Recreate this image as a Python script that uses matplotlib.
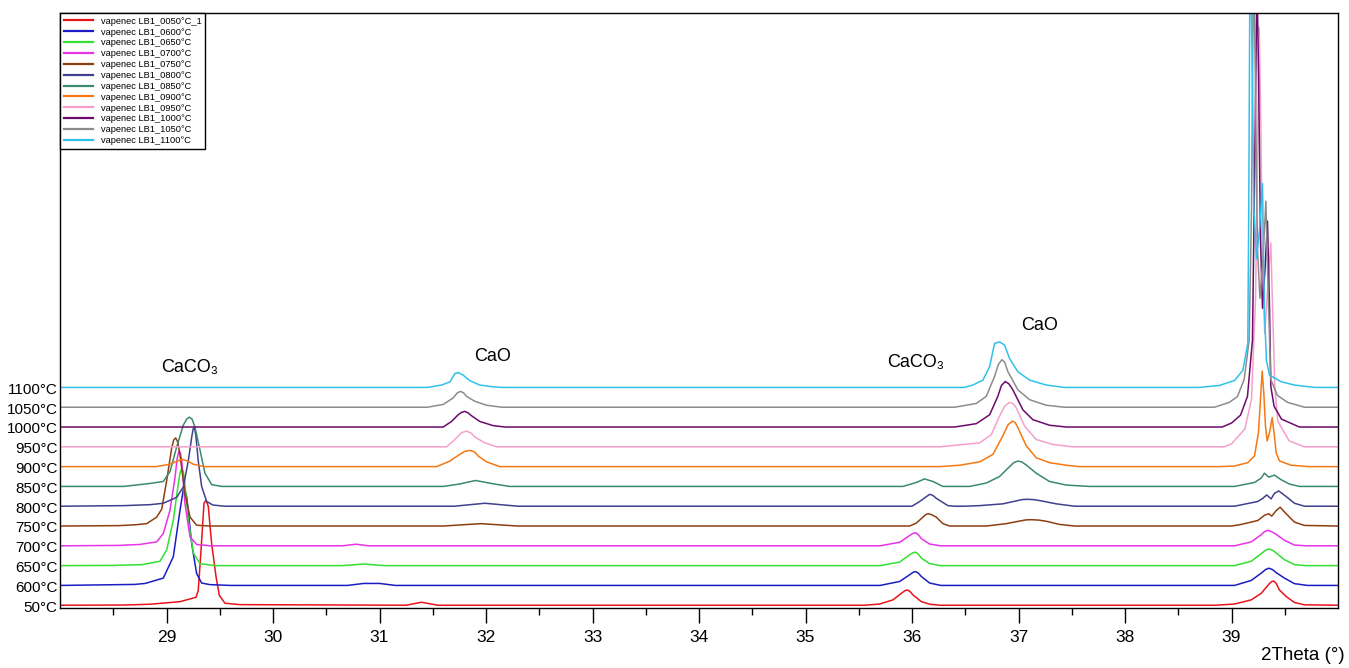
import matplotlib
matplotlib.use("Agg")
import matplotlib.pyplot as plt
import matplotlib.transforms as mtransforms

plt.rcParams['font.family'] = ['Liberation Sans', 'DejaVu Sans']

# ---------------- data (2Theta in degrees, intensity above own baseline) ----------------
temps = ["50°C", "600°C", "650°C", "700°C", "750°C", "800°C", "850°C",
         "900°C", "950°C", "1000°C", "1050°C", "1100°C"]
legend_labels = ["vapenec LB1_0050°C_1", "vapenec LB1_0600°C", "vapenec LB1_0650°C",
                 "vapenec LB1_0700°C", "vapenec LB1_0750°C", "vapenec LB1_0800°C",
                 "vapenec LB1_0850°C", "vapenec LB1_0900°C", "vapenec LB1_0950°C",
                 "vapenec LB1_1000°C", "vapenec LB1_1050°C", "vapenec LB1_1100°C"]
offsets = [0, 100, 200, 300, 400, 500, 600, 700, 800, 900, 1000, 1100]
colors = ["#e8141a", "#1c1cc4", "#33e033", "#e833e8", "#8e3f10", "#40408e",
          "#3a8a6c", "#f57812", "#f5a0cc", "#6c0a6c", "#8c8c8c", "#30c0ec"]

tt_50 = [28.00, 28.60, 28.845, 29.127, 29.277, 29.298, 29.324, 29.352, 29.371, 29.392, 29.424,
         29.465, 29.496, 29.549, 29.690, 31.25, 31.395, 31.55, 35.55, 35.696, 35.821,
         35.900, 35.935, 35.956, 35.980, 36.009, 36.088, 36.166, 36.259, 38.85, 39.028, 39.185, 39.279,
         39.357, 39.380, 39.397, 39.420, 39.450, 39.513, 39.591, 39.685, 40.00]
i_50 = [0, 1, 5, 18, 40, 75, 275, 515, 530, 500, 310,
        145, 50, 10, 3, 0, 15, 0, 0, 6, 27,
        60, 74, 77, 70, 52, 18, 5, 0, 0, 6, 27, 60,
        110, 120, 122, 110, 77, 44, 14, 2, 0]

tt_600 = [28.00, 28.70, 28.80, 28.970, 29.064, 29.127, 29.158, 29.164, 29.190, 29.237, 29.283,
          29.330, 29.408, 29.60, 30.70, 30.85, 31.00, 31.15, 35.70, 35.884, 35.978,
          36.010, 36.034, 36.060, 36.088, 36.166, 36.27, 39.028, 39.185, 39.279, 39.320, 39.350, 39.385,
          39.419, 39.497, 39.591, 39.713, 40.00]
i_600 = [0, 5, 10, 37, 145, 380, 485, 495, 445, 210, 60,
         12, 4, 0, 0, 10, 10, 0, 0, 20, 54,
         66, 70, 62, 45, 12, 0, 0, 25, 62, 80, 87, 80,
         65, 37, 9, 0, 0]

tt_650 = [28.00, 28.50, 28.770, 28.939, 29.002, 29.064, 29.111, 29.128, 29.143, 29.155, 29.167,
          29.205, 29.252, 29.314, 29.455, 30.65, 30.85, 31.05, 35.70, 35.884, 35.978,
          36.010, 36.034, 36.060, 36.088, 36.166, 36.27, 39.028, 39.185, 39.279, 39.320,
          39.350, 39.385, 39.419, 39.497, 39.591, 39.70, 40.00]
i_650 = [0, 1, 5, 22, 80, 230, 415, 470, 490, 480, 445,
         230, 64, 10, 0, 0, 8, 0, 0, 18, 55,
         65, 68, 58, 38, 10, 0, 0, 22, 60, 78,
         84, 78, 64, 30, 5, 0, 0]

tt_700 = [28.00, 28.55, 28.751, 28.908, 28.970, 29.033, 29.080, 29.100, 29.117, 29.130, 29.143,
          29.174, 29.221, 29.283, 29.408, 30.65, 30.78, 30.90, 35.70, 35.884, 35.978,
          36.010, 36.034, 36.060, 36.088, 36.166, 36.27, 39.028, 39.185, 39.279, 39.310,
          39.340, 39.375, 39.419, 39.497, 39.591, 39.70, 40.00]
i_700 = [0, 2, 7, 20, 62, 180, 345, 440, 480, 470, 430,
         210, 45, 7, 0, 0, 8, 0, 0, 18, 52,
         63, 66, 56, 36, 9, 0, 0, 20, 56, 72,
         78, 72, 58, 28, 4, 0, 0]

tt_750 = [28.00, 28.55, 28.70, 28.814, 28.908, 28.955, 29.002, 29.049, 29.068, 29.086, 29.105,
          29.127, 29.174, 29.221, 29.283, 29.408, 31.60, 31.95, 32.30, 35.978, 36.041,
          36.103, 36.130, 36.150, 36.180, 36.228, 36.290, 36.353, 36.697, 36.885, 37.010,
          37.070, 37.120, 37.190, 37.261, 37.386, 37.527, 39.00, 39.091, 39.247, 39.309,
          39.350, 39.378, 39.419, 39.457, 39.513, 39.591, 39.685, 40.00]
i_750 = [0, 2, 6, 12, 45, 85, 230, 395, 435, 445, 425,
         360, 160, 45, 4, 0, 0, 12, 0, 0, 15,
         45, 58, 62, 58, 45, 12, 0, 0, 12, 25,
         31, 32, 30, 24, 8, 0, 0, 8, 28, 54,
         62, 50, 78, 95, 62, 20, 3, 0]

tt_800 = [28.00, 28.60, 28.85, 28.970, 29.096, 29.158, 29.205, 29.237, 29.250, 29.261, 29.275,
          29.298, 29.330, 29.377, 29.436, 29.549, 31.70, 31.99, 32.30, 36.00, 36.072,
          36.134, 36.166, 36.195, 36.228, 36.337, 36.40, 36.49, 36.635, 36.853, 36.979,
          37.040, 37.088, 37.150, 37.214, 37.355, 37.527, 39.028, 39.247, 39.294, 39.331,
          39.372, 39.403, 39.444, 39.513, 39.591, 39.685, 40.00]
i_800 = [0, 3, 8, 15, 45, 98, 230, 350, 390, 400, 360,
         230, 100, 24, 6, 0, 0, 15, 0, 0, 24,
         48, 60, 55, 40, 3, 0, 0, 3, 12, 27,
         34, 35, 33, 27, 12, 0, 0, 24, 40, 57,
         37, 65, 77, 49, 15, 0, 0]

tt_850 = [28.00, 28.60, 28.845, 28.970, 29.033, 29.096, 29.158, 29.190, 29.214, 29.240, 29.267,
          29.314, 29.361, 29.424, 29.52, 31.60, 31.75, 31.90, 32.07, 32.22, 35.915,
          36.041, 36.118, 36.196, 36.290, 36.541, 36.697, 36.822, 36.916, 36.955, 36.994,
          37.030, 37.073, 37.166, 37.291, 37.448, 37.667, 39.028, 39.216, 39.279, 39.309,
          39.350, 39.403, 39.466, 39.544, 39.638, 40.00]
i_850 = [0, 0, 15, 25, 75, 200, 310, 340, 350, 340, 300,
         185, 67, 9, 0, 0, 12, 30, 13, 0, 0,
         20, 38, 25, 0, 0, 17, 50, 100, 120, 128,
         124, 108, 67, 25, 7, 0, 0, 20, 42, 67,
         47, 57, 34, 12, 0, 0]

tt_900 = [28.00, 28.90, 29.033, 29.10, 29.148, 29.20, 29.252, 29.35, 31.536, 31.661,
          31.754, 31.800, 31.848, 31.890, 31.926, 32.005, 32.130, 36.26, 36.447, 36.635,
          36.760, 36.853, 36.900, 36.942, 36.970, 36.994, 37.073, 37.166, 37.291, 37.448,
          37.573, 38.887, 39.028, 39.153, 39.216, 39.253, 39.272, 39.288, 39.303, 39.319,
          39.335, 39.357, 39.382, 39.403, 39.419, 39.450, 39.560, 39.73, 40.00]
i_900 = [0, 0, 12, 28, 37, 28, 12, 0, 0, 28,
         62, 77, 82, 75, 54, 24, 0, 0, 7, 24,
         62, 155, 210, 230, 222, 197, 105, 45, 20, 7,
         0, 0, 3, 20, 54, 172, 338, 483, 374, 205,
         130, 172, 247, 155, 71, 29, 7, 0, 0]

tt_950 = [28.00, 31.630, 31.708, 31.770, 31.817, 31.860, 31.895, 31.989, 32.10, 36.26,
          36.635, 36.745, 36.822, 36.870, 36.916, 36.950, 36.979, 37.057, 37.166, 37.322,
          37.51, 38.931, 39.000, 39.125, 39.188, 39.226, 39.244, 39.260, 39.275, 39.291,
          39.312, 39.335, 39.369, 39.387, 39.406, 39.434, 39.542, 39.683, 40.00]
i_950 = [0, 0, 37, 72, 79, 70, 50, 20, 0, 0,
         20, 62, 155, 205, 225, 218, 197, 105, 37, 12,
         0, 0, 15, 90, 240, 750, 1480, 2120, 1640, 900,
         570, 760, 1030, 680, 310, 130, 30, 0, 0]

tt_1000 = [28.00, 31.598, 31.676, 31.739, 31.770, 31.801, 31.830, 31.864, 31.942, 32.067,
           32.18, 36.40, 36.604, 36.729, 36.806, 36.840, 36.876, 36.910, 36.947, 37.041,
           37.135, 37.291, 37.45, 38.912, 39.000, 39.085, 39.150, 39.197, 39.220, 39.239,
           39.255, 39.272, 39.291, 39.315, 39.338, 39.357, 39.369, 39.400, 39.469, 39.638,
           40.00]
i_1000 = [0, 0, 28, 62, 74, 79, 72, 57, 28, 7,
          0, 0, 17, 62, 155, 210, 230, 218, 188, 87,
          37, 9, 0, 0, 20, 60, 155, 440, 1400, 2270,
          1750, 950, 600, 800, 1040, 600, 205, 105, 40, 0,
          0]

tt_1050 = [28.00, 31.45, 31.598, 31.692, 31.730, 31.761, 31.790, 31.817, 31.895, 32.005,
           32.15, 36.40, 36.604, 36.697, 36.775, 36.810, 36.844, 36.870, 36.900, 36.994,
           37.104, 37.261, 37.43, 38.840, 38.981, 39.056, 39.119, 39.166, 39.188, 39.206,
           39.223, 39.244, 39.267, 39.295, 39.323, 39.343, 39.369, 39.431, 39.525, 39.685,
           40.00]
i_1050 = [0, 0, 14, 47, 72, 80, 72, 55, 30, 10,
          0, 0, 19, 55, 155, 215, 240, 228, 180, 88,
          38, 10, 0, 0, 25, 54, 140, 340, 1000, 2270,
          1700, 800, 550, 750, 1040, 600, 140, 60, 25, 0,
          0]

tt_1100 = [28.00, 31.45, 31.583, 31.661, 31.708, 31.739, 31.786, 31.848, 31.942, 32.067,
           32.15, 36.49, 36.572, 36.666, 36.729, 36.775, 36.822, 36.869, 36.916, 36.994,
           37.104, 37.261, 37.43, 38.699, 38.887, 39.028, 39.106, 39.153, 39.162, 39.175,
           39.190, 39.211, 39.235, 39.263, 39.291, 39.309, 39.328, 39.357, 39.466, 39.591,
           39.779, 40.00]
i_1100 = [0, 0, 12, 28, 70, 75, 62, 34, 12, 3,
          0, 0, 12, 37, 105, 222, 230, 214, 146, 79,
          37, 12, 0, 0, 10, 35, 86, 222, 900, 2320,
          1800, 900, 650, 800, 1030, 390, 136, 62, 29, 12,
          0, 0]

two_theta = [tt_50, tt_600, tt_650, tt_700, tt_750, tt_800, tt_850,
             tt_900, tt_950, tt_1000, tt_1050, tt_1100]
intensity = [i_50, i_600, i_650, i_700, i_750, i_800, i_850,
             i_900, i_950, i_1000, i_1050, i_1100]

major_ticks = [29, 30, 31, 32, 33, 34, 35, 36, 37, 38, 39]
minor_ticks = [28.5, 29.5, 30.5, 31.5, 32.5, 33.5, 34.5, 35.5, 36.5, 37.5, 38.5, 39.5]

annotations = [("CaCO\u2083", 29.22, 1203), ("CaO", 32.06, 1254),
               ("CaCO\u2083", 36.03, 1224), ("CaO", 37.20, 1411)]

# ---------------- figure ----------------
W, H = 1349, 668
fig = plt.figure(figsize=(W / 100, H / 100), dpi=100)
ax = fig.add_axes([60 / W, 1 - 608 / H, (1338 - 60) / W, (608 - 13) / H])

handles = []
for tt, ii, off, col, lab in zip(two_theta, intensity, offsets, colors, legend_labels):
    yy = [v + off for v in ii]
    h, = ax.plot(tt, yy, color=col, lw=1.1, label=lab, solid_joinstyle='round')
    handles.append(h)

ax.set_xlim(28.0, 40.0)
ax.set_ylim(-14, 2991)
ax.set_yticks([])
ax.set_xticks(major_ticks)
ax.set_xticklabels([str(t) for t in major_ticks])
ax.set_xticks(minor_ticks, minor=True)
ax.tick_params(axis='x', which='major', direction='out', length=10.8, width=1.0,
               pad=5, labelsize=12.5)
ax.tick_params(axis='x', which='minor', direction='out', length=5, width=1.0)
for s in ax.spines.values():
    s.set_linewidth(1.0)

trans = mtransforms.blended_transform_factory(ax.transAxes, ax.transData)
for lab, off in zip(temps, offsets):
    ax.text(-0.002, off - 12, lab, transform=trans, ha='right', va='center',
            fontsize=11)

for txt, x, y in annotations:
    ax.text(x, y, txt, ha='center', va='center', fontsize=13)

fig.text(1345 / W, 1 - 656 / H, "2Theta (°)", ha='right', va='center', fontsize=13.5)

leg = ax.legend(handles=handles, loc='upper left', bbox_to_anchor=(0, 1),
                borderaxespad=0, fontsize=6.7, frameon=True, fancybox=False,
                edgecolor='black', framealpha=1, handlelength=3.1,
                handletextpad=0.9, labelspacing=0.2, borderpad=0.4)
leg.get_frame().set_linewidth(1.0)
for lh in leg.get_lines():
    lh.set_linewidth(1.6)

fig.savefig("out.png", dpi=100)
